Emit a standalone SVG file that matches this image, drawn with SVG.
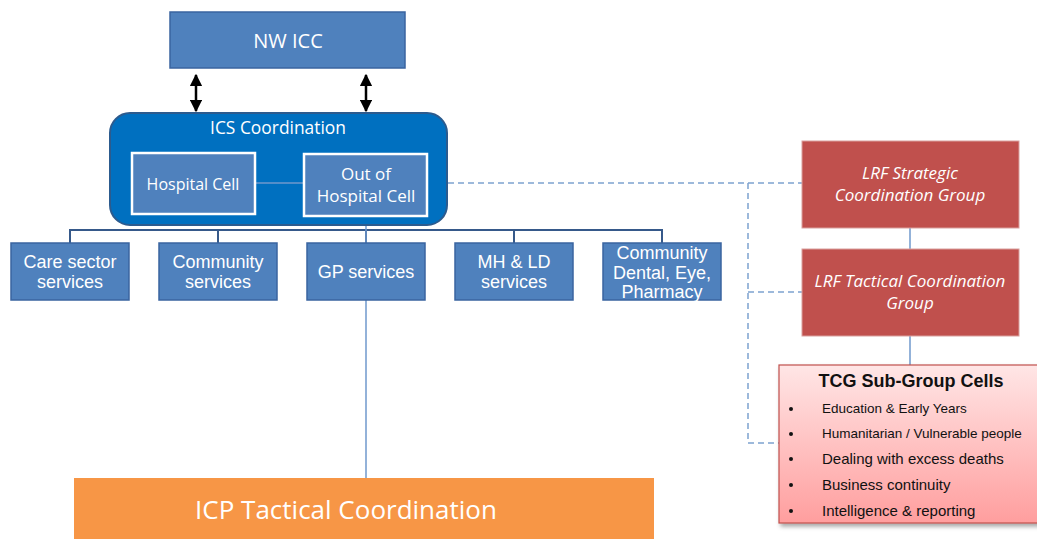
<svg xmlns="http://www.w3.org/2000/svg" width="1037" height="539" viewBox="0 0 1037 539">
<defs>
<style>
.blue{fill:#4F81BD;stroke:#3A64A0;stroke-width:1.5}
.t{font-family:"Liberation Sans",Arial,sans-serif;fill:#fff;text-anchor:middle}
.c{font-family:"Open Sans","Liberation Sans",sans-serif;fill:#fff;text-anchor:middle}
.red{fill:#C0504D;stroke:#D9A09E;stroke-width:1}
.ri{font-family:"Open Sans","Liberation Sans",sans-serif;font-style:italic;fill:#fff;text-anchor:middle;font-size:17px}
.bus{stroke:#36598A;stroke-width:2;fill:none}
.thin{stroke:#6F99CC;stroke-width:1.5;fill:none}
.dash{stroke:#7EA2D0;stroke-width:1.5;fill:none;stroke-dasharray:6 4}
.k{font-family:"Liberation Sans",Arial,sans-serif;fill:#111}
</style>
<marker id="ah" viewBox="0 0 10 10" refX="9" refY="5" markerWidth="5" markerHeight="5" orient="auto-start-reverse">
<path d="M0,0 L10,5 L0,10 z" fill="#000"/>
</marker>
<linearGradient id="pink" x1="0" y1="0" x2="0" y2="1">
<stop offset="0" stop-color="#FFE6E6"/>
<stop offset="1" stop-color="#FF9E9E"/>
</linearGradient>
<filter id="sh" x="-5%" y="-5%" width="115%" height="115%">
<feDropShadow dx="2" dy="3" stdDeviation="2" flood-color="#000" flood-opacity="0.35"/>
</filter>
</defs>
<rect width="1037" height="539" fill="#fff"/>

<g id="connectors">
<line x1="196" y1="75" x2="196" y2="111" stroke="#000" stroke-width="2.5" marker-start="url(#ah)" marker-end="url(#ah)"/>
<line x1="366" y1="75" x2="366" y2="111" stroke="#000" stroke-width="2.5" marker-start="url(#ah)" marker-end="url(#ah)"/>
<path class="bus" d="M70,243 V230 H662 V243 M218,230 V243 M366,230 V243 M514,230 V243"/>
<line class="thin" x1="366" y1="216" x2="366" y2="243"/>
<line class="thin" x1="366" y1="300" x2="366" y2="478"/>
<line class="thin" x1="910" y1="228" x2="910" y2="249"/>
<line class="thin" x1="910" y1="336" x2="910" y2="365"/>
<path class="dash" d="M428,183 H748 V443 H780 M748,183 H802 M748,292 H802"/>
</g>

<g id="nw-icc">
<rect class="blue" x="170" y="12" width="235" height="56"/>
<text class="c" x="288" y="48" font-size="20">NW ICC</text>
</g>

<g id="ics-coordination">
<rect x="110" y="113" width="337" height="112" rx="20" fill="#0070C0" stroke="#2C5B8E" stroke-width="2"/>
<text class="c" x="278" y="134" font-size="17.4">ICS Coordination</text>
</g>

<g id="hospital-cell">
<line class="thin" x1="255" y1="183" x2="304" y2="183"/>
<rect x="132" y="153" width="123" height="61" fill="#4F81BD" stroke="#fff" stroke-width="2.5"/>
<text class="c" x="193" y="190" font-size="16">Hospital Cell</text>
</g>

<g id="out-of-hospital-cell">
<rect x="304" y="154" width="123" height="62" fill="#4F81BD" stroke="#fff" stroke-width="2.5"/>
<text class="c" x="366" y="180" font-size="17">Out of</text>
<text class="c" x="366" y="202" font-size="17">Hospital Cell</text>
</g>

<g id="care-sector">
<rect class="blue" x="11" y="243" width="118" height="57"/>
<text class="t" x="70" y="268" font-size="18">Care sector</text>
<text class="t" x="70" y="288" font-size="18">services</text>
</g>
<g id="community-services">
<rect class="blue" x="159" y="243" width="118" height="57"/>
<text class="t" x="218" y="268" font-size="18">Community</text>
<text class="t" x="218" y="288" font-size="18">services</text>
</g>
<g id="gp-services">
<rect class="blue" x="307" y="243" width="118" height="57"/>
<text class="t" x="366" y="278" font-size="18">GP services</text>
</g>
<g id="mh-ld">
<rect class="blue" x="455" y="243" width="118" height="57"/>
<text class="t" x="514" y="268" font-size="18">MH &amp; LD</text>
<text class="t" x="514" y="288" font-size="18">services</text>
</g>
<g id="community-dental">
<rect class="blue" x="603" y="243" width="118" height="57"/>
<text class="t" x="662" y="259" font-size="18">Community</text>
<text class="t" x="662" y="279" font-size="18">Dental, Eye,</text>
<text class="t" x="662" y="298" font-size="18">Pharmacy</text>
</g>

<g id="lrf-strategic">
<rect class="red" x="802" y="141" width="217" height="87"/>
<text class="ri" x="910" y="179">LRF Strategic</text>
<text class="ri" x="910" y="201">Coordination Group</text>
</g>
<g id="lrf-tactical">
<rect class="red" x="802" y="249" width="217" height="87"/>
<text class="ri" x="910" y="287">LRF Tactical Coordination</text>
<text class="ri" x="910" y="309">Group</text>
</g>

<g id="tcg-sub-group">
<rect x="779" y="365" width="262" height="158" fill="url(#pink)" stroke="#C0504D" stroke-width="1.2" filter="url(#sh)"/>
<text class="k" x="911" y="387" font-size="18" font-weight="bold" text-anchor="middle">TCG Sub-Group Cells</text>
<circle cx="791" cy="409" r="2" fill="#111"/>
<circle cx="791" cy="434" r="2" fill="#111"/>
<circle cx="791" cy="459" r="2" fill="#111"/>
<circle cx="791" cy="485" r="2" fill="#111"/>
<circle cx="791" cy="511" r="2" fill="#111"/>
<text class="k" x="822" y="413" font-size="13.5">Education &amp; Early Years</text>
<text class="k" x="822" y="438" font-size="13.5">Humanitarian / Vulnerable people</text>
<text class="k" x="822" y="464" font-size="15">Dealing with excess deaths</text>
<text class="k" x="822" y="490" font-size="15">Business continuity</text>
<text class="k" x="822" y="516" font-size="15">Intelligence &amp; reporting</text>
</g>

<g id="icp-tactical">
<rect x="74" y="478" width="580" height="61" fill="#F79646"/>
<text class="c" x="346" y="519" font-size="26">ICP Tactical Coordination</text>
</g>
</svg>
